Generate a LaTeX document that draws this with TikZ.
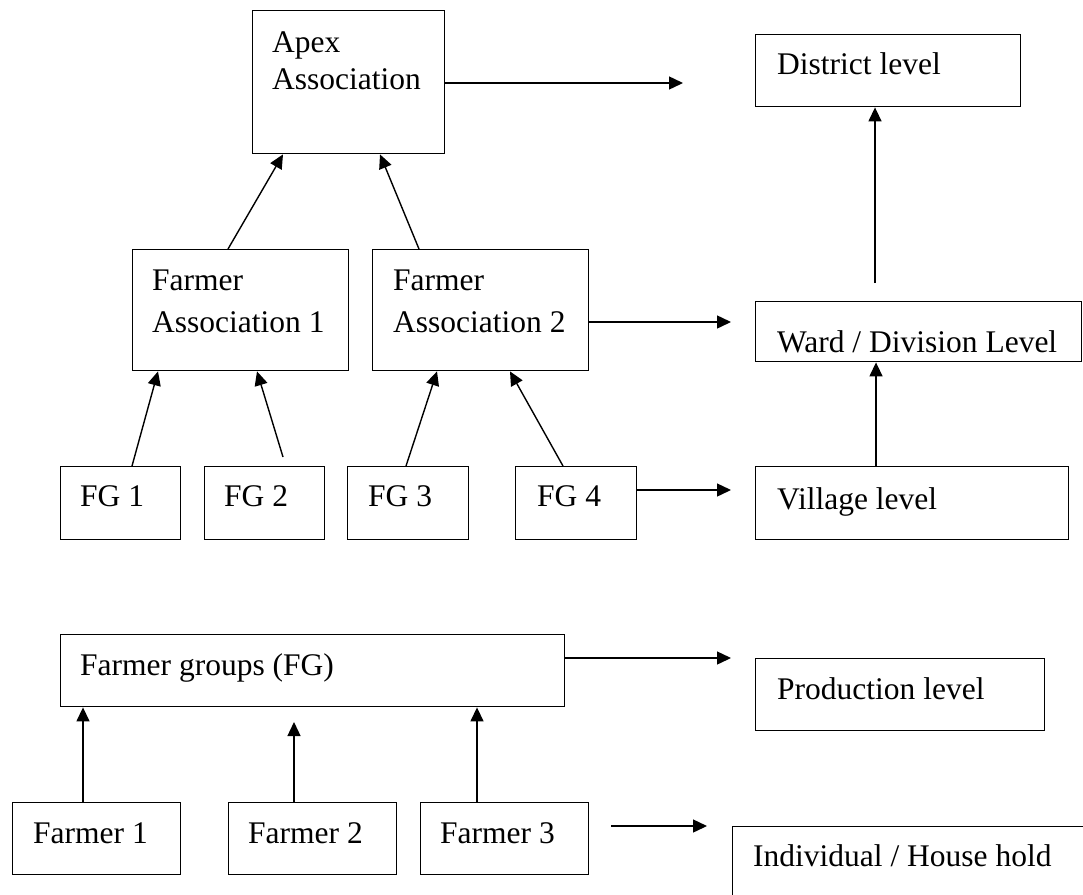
\documentclass[tikz,border=0pt]{standalone}
\usepackage{fontspec}
\setmainfont{Liberation Serif}
\usetikzlibrary{arrows.meta,calc}
\begin{document}
\begin{tikzpicture}[x=1pt,y=-1pt,
  box/.style={draw,line width=1.4pt,inner sep=0pt,anchor=north west},
  lab/.style={anchor=north west,inner sep=0pt,align=left,font=\fontsize{31.5}{37}\selectfont},
  arr/.style={line width=1.4pt,-{Triangle[length=14pt,width=13pt]}},
  ln/.style={line width=1.4pt}]
\clip (0,0) rectangle (1083,894);
\useasboundingbox (0,0) rectangle (1083,894);
% top level
\node[box,minimum width=192pt,minimum height=143pt,
  label={[lab,xshift=20pt,yshift=-22pt]north west:{Apex\\Association}}] (apex) at (252,10) {};
\node[box,minimum width=265pt,minimum height=72pt,
  label={[lab,xshift=22pt,yshift=-18pt]north west:{District level}}] (district) at (755,34) {};
% associations
\node[box,minimum width=216pt,minimum height=121pt,
  label={[lab,font=\fontsize{31.5}{42}\selectfont,xshift=20pt,yshift=-21pt]north west:{Farmer\\Association 1}}] (fa1) at (132,249) {};
\node[box,minimum width=216pt,minimum height=121pt,
  label={[lab,font=\fontsize{31.5}{42}\selectfont,xshift=21pt,yshift=-21pt]north west:{Farmer\\Association 2}}] (fa2) at (372,249) {};
\node[box,minimum width=326pt,minimum height=60pt,
  label={[lab,xshift=22pt,yshift=-29pt]north west:{Ward / Division Level}}] (ward) at (755,301) {};
% farmer groups
\node[box,minimum width=120pt,minimum height=73pt,
  label={[lab,xshift=20pt,yshift=-19pt]north west:{FG 1}}] (fg1) at (60,466) {};
\node[box,minimum width=120pt,minimum height=73pt,
  label={[lab,xshift=20pt,yshift=-19pt]north west:{FG 2}}] (fg2) at (204,466) {};
\node[box,minimum width=121pt,minimum height=73pt,
  label={[lab,xshift=21pt,yshift=-19pt]north west:{FG 3}}] (fg3) at (347,466) {};
\node[box,minimum width=121pt,minimum height=73pt,
  label={[lab,xshift=22pt,yshift=-19pt]north west:{FG 4}}] (fg4) at (515,466) {};
\node[box,minimum width=313pt,minimum height=73pt,
  label={[lab,xshift=22pt,yshift=-21pt]north west:{Village level}}] (village) at (755,466) {};
% lower part
\node[box,minimum width=504pt,minimum height=72pt,
  label={[lab,xshift=20pt,yshift=-19pt]north west:{Farmer groups (FG)}}] (fgroups) at (60,634) {};
\node[box,minimum width=289pt,minimum height=72pt,
  label={[lab,xshift=22pt,yshift=-19pt]north west:{Production level}}] (production) at (755,658) {};
\node[box,minimum width=168pt,minimum height=72pt,
  label={[lab,xshift=21pt,yshift=-20pt]north west:{Farmer 1}}] (farmer1) at (12,802) {};
\node[box,minimum width=168pt,minimum height=72pt,
  label={[lab,xshift=20pt,yshift=-20pt]north west:{Farmer 2}}] (farmer2) at (228,802) {};
\node[box,minimum width=168pt,minimum height=72pt,
  label={[lab,xshift=20pt,yshift=-20pt]north west:{Farmer 3}}] (farmer3) at (420,802) {};
\node[box,minimum width=400pt,minimum height=120pt,
  label={[lab,xshift=21pt,yshift=-18pt]north west:{Individual / House hold}}] (individual) at (732,826) {};
% free ends
\coordinate (e1) at (683,83);
\coordinate (e2) at (731,322);
\coordinate (e3) at (731,490);
\coordinate (e4) at (731,658);
\coordinate (s5) at (283,457);
\coordinate (s6) at (875,283);
\coordinate (e7) at (294,722);
\coordinate (s8) at (611,826);
\coordinate (e8) at (707,826);
% connectors
\draw[arr] (apex.east |- e1) -- (e1);
\draw[arr] ($(fa1.north west)+(96,0)$) -- ($(apex.south west)+(31,0)$);
\draw[arr] ($(fa2.north west)+(47,0)$) -- ($(apex.south west)+(128,0)$);
\draw[arr] ($(fg1.north west)+(72,0)$) -- ($(fa1.south west)+(26,0)$);
\draw[arr] (s5) -- ($(fa1.south west)+(125,0)$);
\draw[arr] ($(fg3.north west)+(59,0)$) -- ($(fa2.south west)+(65,0)$);
\draw[arr] ($(fg4.north west)+(48,0)$) -- ($(fa2.south west)+(138,0)$);
\draw[arr] (fa2.east |- e2) -- (e2);
\draw[arr] (s6) -- (s6 |- district.south);
\draw[arr] ($(village.north west)+(121,0)$) -- ($(ward.south west)+(121,0)$);
\draw[arr] (fg4.east |- e3) -- (e3);
\draw[arr] (fgroups.east |- e4) -- (e4);
\draw[arr] ($(farmer1.north west)+(71,0)$) -- ($(fgroups.south west)+(23,0)$);
\draw[arr] ($(farmer2.north west)+(66,0)$) -- (e7);
\draw[arr] ($(farmer3.north west)+(57,0)$) -- ($(fgroups.south west)+(417,0)$);
\draw[arr] (s8) -- (e8);
\end{tikzpicture}
\end{document}
